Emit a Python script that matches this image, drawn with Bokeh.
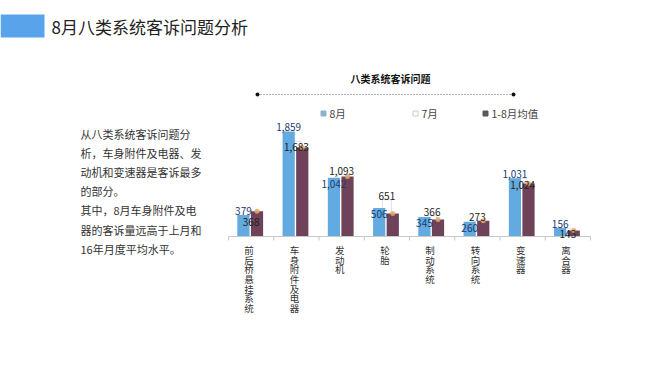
from bokeh.plotting import figure
from bokeh.models import Range1d, Label, BoxAnnotation, ColumnDataSource
from bokeh.core.properties import value
from bokeh.embed import file_html
from bokeh.resources import INLINE

# ---------------- data ----------------
page_title = "8月八类系统客诉问题分析"
chart_title = "八类系统客诉问题"
categories = ["前后桥悬挂系统", "车身附件及电器", "发动机", "轮胎",
              "制动系统", "转向系统", "变速器", "离合器"]
series_names = ["8月", "7月", "1-8月均值"]
aug = [379, 1859, 1042, 506, 345, 260, 1031, 156]      # 8月 (blue bars)
jul = [368, 1683, 1093, 651, 366, 273, 1024, 143]      # 7月 (white bars)
avg = [446, 1576, 1060, 405, 299, 280, 940, 104]       # 1-8月均值 (maroon bars, read from heights)
notes = ["从八类系统客诉问题分",
         "析，车身附件及电器、发",
         "动机和变速器是客诉最多",
         "的部分。",
         "其中，8月车身附件及电",
         "器的客诉量远高于上月和",
         "16年月度平均水平。"]

FONT = "Noto Sans CJK SC"
W, H = 656, 366
OFF = 0                       # page position of the canvas
X0, XS = 228 - OFF, 45.25     # canvas px of x=0, px per category
Y0, YS = 236 - OFF, 0.0565    # canvas px of y=0, px per unit

def dx(px):
    return (px - OFF - X0) / XS

def dy(py):
    return (Y0 - (py - OFF)) / YS

n = len(categories)
centers = [i + 0.5 for i in range(n)]
B_OFF, J_OFF, M_OFF, BW, JW = -0.17, 0.0, 0.13, 0.27, 0.2

src = ColumnDataSource(dict(
    xb=[c + B_OFF for c in centers], xj=[c + J_OFF for c in centers],
    xm=[c + M_OFF for c in centers], aug=aug, jul=jul, avg=avg,
))

p = figure(x_range=Range1d(-X0 / XS, (W - X0) / XS),
           y_range=Range1d(-(H - Y0) / YS, Y0 / YS),
           width=W, height=H, output_backend="svg", toolbar_location=None,
           min_border=0)
p.outline_line_color = None
p.grid.visible = False
p.axis.visible = False
p.background_fill_color = "white"
p.border_fill_color = "white"

# bars (7月 white bar behind the others)
p.vbar(x="xj", top="jul", width=JW, source=src, fill_color="white", line_color="#e2e2e2")
p.vbar(x="xb", top="aug", width=BW, source=src, fill_color="#62aadf", line_color=None)
p.vbar(x="xm", top="avg", width=BW, source=src, fill_color="#6e4258", line_color=None)
p.scatter(x="xm", y="avg", source=src, marker="circle", size=5,
          fill_color="#eaa466", line_color=None, fill_alpha=0.85)

# category axis: baseline, boundary ticks, stacked labels
tick_len = 4 / YS
p.segment(x0=[0], y0=[0], x1=[n], y1=[0], line_color="#c8c8c8", line_width=1)
p.segment(x0=list(range(n + 1)), y0=[0] * (n + 1), x1=list(range(n + 1)),
          y1=[-tick_len] * (n + 1), line_color="#c8c8c8", line_width=1)
cx, ch, cyo = [], [], []
for c, name in zip(centers, categories):
    for k, char in enumerate(name):
        cx.append(c)
        ch.append(char)
        cyo.append(13.5 + k * 9.67)
p.text(x=cx, y=[0] * len(cx), text=ch, y_offset=cyo, x_offset=-2,
       text_font=value(FONT), text_font_size="9.5px", text_color="#333333",
       text_align="center", text_baseline="middle")

# value labels: of the 8月/7月 pair, the larger value is labelled above its bar top,
# the smaller one just below its top
hi = dict(x=[], y=[], t=[], c=[])
lo = dict(x=[], y=[], t=[], c=[])
for i in range(n):
    a = (centers[i] + B_OFF, aug[i], f"{aug[i]:,}", "#1d3b6e")
    j = (centers[i] + J_OFF, jul[i], f"{jul[i]:,}", "#222222")
    first, second = (a, j) if aug[i] >= jul[i] else (j, a)
    for d, item in ((hi, first), (lo, second)):
        d["x"].append(item[0]); d["y"].append(item[1])
        d["t"].append(item[2]); d["c"].append(item[3])
p.text(x="x", y="y", text="t", text_color="c", source=ColumnDataSource(hi),
       text_font=value(FONT), text_font_size="10px",
       text_align="center", text_baseline="bottom")
p.text(x="x", y="y", text="t", text_color="c", source=ColumnDataSource(lo),
       y_offset=2, text_font=value(FONT), text_font_size="10px",
       text_align="center", text_baseline="top")

# -------- page decorations --------
def lab(text, px, py, size, color="#333333", bold=False, align="left", baseline="middle"):
    p.add_layout(Label(x=dx(px), y=dy(py), text=text, text_font=FONT,
                       text_font_size=size, text_color=color,
                       text_font_style="bold" if bold else "normal",
                       text_align=align, text_baseline=baseline))

p.add_layout(BoxAnnotation(left=dx(0), right=dx(44), top=dy(14), bottom=dy(37),
                           fill_color="#58a3ea", fill_alpha=1, line_color=None))
lab(page_title, 51, 26, "17px", "#222222")

for i, line in enumerate(notes):
    lab(line, 80, 133 + i * 19.2, "11px", "#333333")

lab(chart_title, 390, 78, "10px", "#111111", bold=True, align="center")
p.segment(x0=[dx(257)], y0=[dy(94)], x1=[dx(513)], y1=[dy(94)],
          line_color="#666666", line_width=1, line_dash="1 2")
p.scatter(x=[dx(257), dx(513)], y=[dy(94), dy(94)], size=4,
          fill_color="#111111", line_color=None)

leg_x = [323, 415, 485]
leg_fill = ["#8db3c9", "#ffffff", "#595959"]
leg_line = ["#8db3c9", "#cccccc", "#595959"]
p.scatter(x=[dx(v) for v in leg_x], y=[dy(113)] * 3, marker="square", size=5,
          fill_color=leg_fill, line_color=leg_line)
for name, x0 in zip(series_names, leg_x):
    lab(name, x0 + 6, 113, "10.5px", "#444444")

open("out.html", "w").write(file_html(p, INLINE))
